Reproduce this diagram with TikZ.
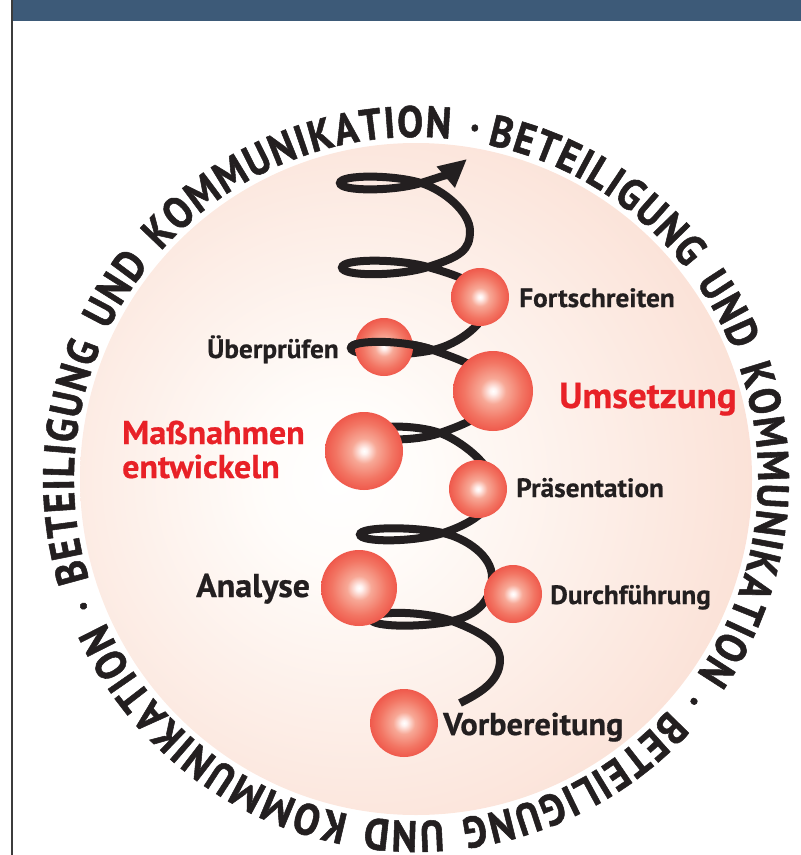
\documentclass[tikz,border=0pt]{standalone}
\usepackage{fontspec}
\usetikzlibrary{decorations.text,arrows.meta}
\newfontfamily\ringfont[FakeStretch=0.88,WordSpace=1.5,FakeBold=1.2]{PT Sans}
\newfontfamily\labfont[FakeStretch=1.03,FakeBold=0.6]{PT Sans}
\definecolor{txtdark}{RGB}{35,31,32}
\definecolor{txtred}{RGB}{232,33,39}
\definecolor{headblue}{RGB}{61,90,120}
\definecolor{bordergray}{RGB}{60,60,60}
\pgfdeclareradialshading{discshade}{\pgfpoint{-6bp}{0bp}}{rgb(0bp)=(1,1,1); rgb(6bp)=(1,0.99,0.98); rgb(28bp)=(0.985,0.89,0.85); rgb(50bp)=(0.97,0.80,0.72); rgb(75bp)=(0.97,0.80,0.72)}
\pgfdeclareradialshading{ballshade}{\pgfpointorigin}{rgb(0bp)=(1,1,1); rgb(2bp)=(1,0.95,0.94); rgb(8bp)=(0.97,0.66,0.59); rgb(18bp)=(0.95,0.46,0.39); rgb(30bp)=(0.93,0.27,0.23); rgb(42bp)=(0.92,0.14,0.16); rgb(50bp)=(0.91,0.10,0.13); rgb(75bp)=(0.91,0.10,0.13)}
\tikzset{
  spiral/.style={line width=8bp, draw=txtdark},
  ball/.style={circle, inner sep=0pt, shading=ballshade},
  lab/.style={anchor=base west, inner sep=0pt, text=txtdark, font=\labfont\bfseries\fontsize{26.5bp}{26.5bp}\selectfont},
  biglab/.style={anchor=base west, inner sep=0pt, text=txtred, font=\labfont\bfseries\fontsize{32bp}{32bp}\selectfont},
}
\begin{document}
\begin{tikzpicture}[x=1bp,y=-1bp]
\useasboundingbox (0,0) rectangle (801,855);
% header and frame
\fill[headblue] (12,0) rectangle (801,20.7);
\draw[bordergray, line width=2bp] (12,0) -- (12,855);
% disc
\shade[shading=discshade] (416,479) circle[radius=336];
% ring text
\path[decorate, decoration={text along path, text align={fit to path},
  text={|\ringfont\bfseries\fontsize{44bp}{44bp}\selectfont\color{txtdark}|BETEILIGUNG UND KOMMUNIKATION · BETEILIGUNG UND KOMMUNIKATION · BETEILIGUNG UND KOMMUNIKATION ·}}]
  (416,479) ++(-78:342) arc[start angle=-78, end angle=280.3, radius=342];
% spiral
\draw[spiral, -{Triangle[length=28bp,width=26bp]}] (460,703) .. controls (478,694) and (500,682) .. (500,660)
 .. controls (500,643) and (480,631.5) .. (452,621)
 .. controls (424,610.5) and (371,610.5) .. (371,619)
 .. controls (371,627.5) and (424,627.5) .. (452,621)
 .. controls (477.2,615.2) and (492,600) .. (492,577)
 .. controls (492,556) and (466.2,538.2) .. (443,533)
 .. controls (414,526.5) and (360,526.5) .. (360,534.5)
 .. controls (360,542.5) and (414,542.5) .. (443,533)
 .. controls (469.1,524.5) and (494,510) .. (494,488)
 .. controls (494,465) and (459.2,439.8) .. (440,433)
 .. controls (416,424.5) and (372,424.5) .. (372,433)
 .. controls (372,441.5) and (416,441.5) .. (440,433)
 .. controls (461.6,425.4) and (498,412) .. (498,392)
 .. controls (498,372) and (456.2,358.4) .. (433,350)
 .. controls (404,339.5) and (351,339.5) .. (351,348)
 .. controls (351,356.5) and (404,356.5) .. (433,350)
 .. controls (459.1,344.2) and (488,322) .. (488,302)
 .. controls (488,285) and (452,273.8) .. (428,267)
 .. controls (398,258.5) and (342,258.5) .. (342,267.5)
 .. controls (342,276.5) and (398,276.5) .. (428,267)
 .. controls (461,256.5) and (470,250) .. (470,231)
 .. controls (470,212) and (443.4,189.8) .. (421,183)
 .. controls (393,174.5) and (340,174.5) .. (340,183)
 .. controls (340,191.5) and (393,191.5) .. (421,183)
 .. controls (437.8,177.9) and (451,172.7) .. (467,159);
% balls
\node[ball, minimum size=58bp] (bFort) at (480,297) {};
\node[ball, minimum size=58bp] (bUeber) at (384,347) {};
\node[ball, minimum size=80bp] (bUms) at (493,391) {};
\node[ball, minimum size=78bp] (bMass) at (364,451) {};
\node[ball, minimum size=58bp] (bPraes) at (478,489) {};
\node[ball, minimum size=76bp] (bAna) at (359,588) {};
\node[ball, minimum size=58bp] (bDurch) at (513,594) {};
\node[ball, minimum size=68bp] (bVor) at (404,723) {};
% loop in front of the Überprüfen ball
\draw[spiral] (433,350) .. controls (404,339.5) and (351,339.5) .. (351,348);
% labels
\node[lab] (tFort) at (519,307) {Fortschreiten};
\node[lab] (tUeber) at (207,358) {Überprüfen};
\node[lab] (tPraes) at (516,497) {Präsentation};
\node[lab] (tDurch) at (550,604) {Durchführung};
\node[lab, font=\labfont\bfseries\fontsize{33bp}{33bp}\selectfont] (tAna) at (196,597) {Analyse};
\node[lab, font=\labfont\bfseries\fontsize{31.5bp}{31.5bp}\selectfont] (tVor) at (443,735) {Vorbereitung};
\node[biglab, font=\labfont\bfseries\fontsize{36bp}{36bp}\selectfont] (tUms) at (559,408) {Umsetzung};
\node[biglab, font=\labfont\bfseries\fontsize{33bp}{33bp}\selectfont] (tMass1) at (122,444) {Maßnahmen};
\node[biglab, font=\labfont\bfseries\fontsize{33bp}{33bp}\selectfont] (tMass2) at (122,478) {entwickeln};
\end{tikzpicture}
\end{document}
